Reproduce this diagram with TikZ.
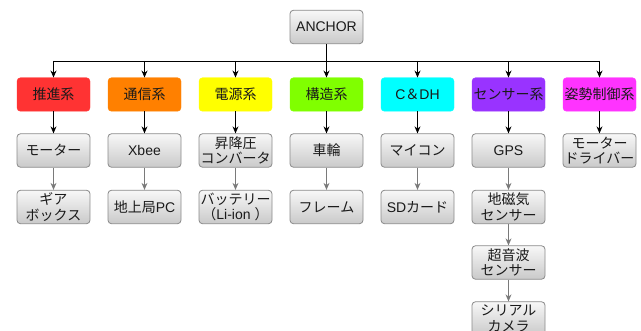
\documentclass[tikz,border=0pt]{standalone}
\usepackage{fontspec}
\setmainfont{Liberation Sans}
\newfontfamily\jp{Noto Sans CJK JP}
\usetikzlibrary{arrows.meta}
\definecolor{cRed}{HTML}{FF3333}
\definecolor{cOrange}{HTML}{FF8000}
\definecolor{cYellow}{HTML}{FFFF00}
\definecolor{cGreen}{HTML}{80FF00}
\definecolor{cCyan}{HTML}{00FFFF}
\definecolor{cPurple}{HTML}{9933FF}
\definecolor{cMagenta}{HTML}{FF33FF}
\definecolor{boxline}{HTML}{8A8A8A}
\definecolor{arrgray}{HTML}{7A7A7A}
\definecolor{txt}{HTML}{1A1A1A}
\tikzset{
  basebox/.style={rounded corners=3.5pt, minimum width=73pt, minimum height=33.5pt,
    inner sep=0pt, align=center, text=txt,
    font=\fontsize{14}{15.5}\selectfont},
  graybox/.style={basebox, draw=boxline, line width=0.8pt, top color=gray!6, bottom color=gray!42},
  colbox/.style={basebox, fill=#1, draw=#1},
  mainarrow/.style={draw=black, line width=0.9pt, -{Stealth[length=7pt,width=6pt]}},
  mainline/.style={draw=black, line width=0.9pt},
  subarrow/.style={draw=arrgray, line width=0.9pt, -{Stealth[length=7pt,width=6pt]}}
}
\begin{document}
\begin{tikzpicture}[x=1pt,y=-1pt]
\useasboundingbox (0,0) rectangle (641,331);
\clip (0,0) rectangle (641,331);
% root
\node[graybox] (a) at (326.5,27) {ANCHOR};
\coordinate (bus) at (326.5,61);
% level 1
\node[colbox=cRed] (c1) at (53.5,94.5) {\jp 推進系};
\node[colbox=cOrange] (c2) at (144.5,94.5) {\jp 通信系};
\node[colbox=cYellow] (c3) at (235.5,94.5) {\jp 電源系};
\node[colbox=cGreen] (c4) at (326.5,94.5) {\jp 構造系};
\node[colbox=cCyan] (c5) at (417.5,94.5) {C{\jp ＆}DH};
\node[colbox=cPurple] (c6) at (508.5,94.5) {\jp センサー系};
\node[colbox=cMagenta] (c7) at (599.5,94.5) {\jp 姿勢制御系};
% level 2
\node[graybox] (m1) at (53.5,150.5) {\jp モーター};
\node[graybox] (x1) at (144.5,150.5) {Xbee};
\node[graybox] (p1) at (235.5,150.5) {\jp 昇降圧\\\jp コンバータ};
\node[graybox] (s1) at (326.5,150.5) {\jp 車輪};
\node[graybox] (d1) at (417.5,150.5) {\jp マイコン};
\node[graybox] (g1) at (508.5,150.5) {GPS};
\node[graybox] (t1) at (599.5,150.5) {\jp モーター\\\jp ドライバー};
% level 3
\node[graybox] (m2) at (53.5,207) {\jp ギア\\\jp ボックス};
\node[graybox] (x2) at (144.5,207) {{\jp 地上局}PC};
\node[graybox] (p2) at (235.5,207) {\jp バッテリー\\{\jp （}Li-ion {\jp ）}};
\node[graybox] (s2) at (326.5,207) {\jp フレーム};
\node[graybox] (d2) at (417.5,207) {SD{\jp カード}};
\node[graybox] (g2) at (508.5,207) {\jp 地磁気\\\jp センサー};
% level 4, 5
\node[graybox] (g3) at (508.5,262.5) {\jp 超音波\\\jp センサー};
\node[graybox] (g4) at (508.5,318.5) {\jp シリアル\\\jp カメラ};
% connectors: root to bus
\draw[mainline] (a.south) -- (bus);
\draw[mainline] (c1.north |- bus) -- (c7.north |- bus);
\foreach \n in {c1,c2,c3,c4,c5,c6,c7}{
  \draw[mainarrow] (\n.north |- bus) -- (\n.north);
}
% level1 -> level2
\draw[mainarrow] (c1) -- (m1);
\draw[mainarrow] (c2) -- (x1);
\draw[mainarrow] (c3) -- (p1);
\draw[mainarrow] (c4) -- (s1);
\draw[mainarrow] (c5) -- (d1);
\draw[mainarrow] (c6) -- (g1);
\draw[mainarrow] (c7) -- (t1);
% level2 -> level3
\draw[subarrow] (m1) -- (m2);
\draw[subarrow] (x1) -- (x2);
\draw[subarrow] (p1) -- (p2);
\draw[subarrow] (s1) -- (s2);
\draw[subarrow] (d1) -- (d2);
\draw[subarrow] (g1) -- (g2);
\draw[subarrow] (g2) -- (g3);
\draw[subarrow] (g3) -- (g4);
\end{tikzpicture}
\end{document}
